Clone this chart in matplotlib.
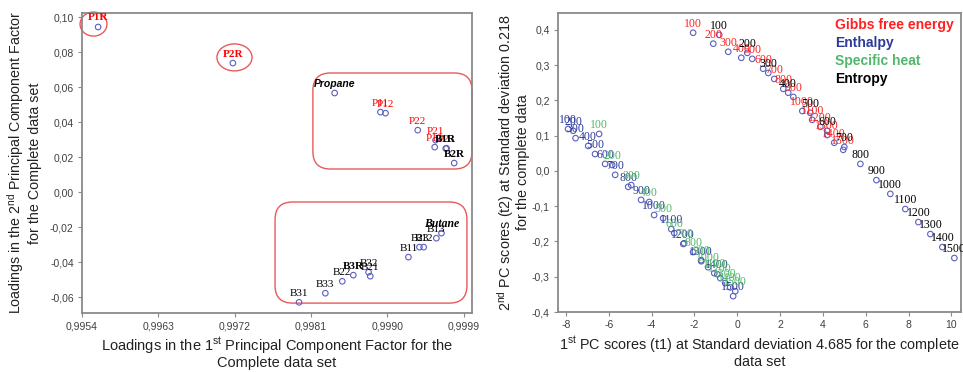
import matplotlib
matplotlib.use("Agg")
import matplotlib.pyplot as plt
from matplotlib.patches import FancyBboxPatch, Ellipse

plt.rcParams['font.family'] = ['Liberation Sans', 'DejaVu Sans']
plt.rcParams['mathtext.fontset'] = 'custom'
plt.rcParams['mathtext.rm'] = 'Liberation Sans'
plt.rcParams['mathtext.it'] = 'Liberation Sans:italic'

# ---------------- Left panel data: loadings ----------------
load_names = ["P1R", "P2R", "Propane", "P11", "P12", "P22", "P21", "P13", "P23", "B1R", "B2R",
              "Butane", "B13", "B23", "B12", "B11", "B21", "B32", "B3R", "B22", "B33", "B31"]
load_pc1 = [0.99559, 0.99718, 0.99838, 0.99892, 0.99898, 0.99936, 0.99957, 0.99956, 0.99970, 0.99969, 0.99979,
            0.99964, 0.99958, 0.99938, 0.99943, 0.99925, 0.99880, 0.99878, 0.99860, 0.99847, 0.99827, 0.99796]
load_pc2 = [0.0943, 0.0737, 0.0566, 0.0457, 0.0451, 0.0354, 0.0297, 0.0257, 0.0251, 0.0249, 0.0166,
            -0.0234, -0.0263, -0.0314, -0.0314, -0.0371, -0.0480, -0.0457, -0.0474, -0.0509, -0.0577, -0.0629]
load_colors = ["red", "red", "black", "red", "red", "red", "red", "red", "red", "black", "black",
               "black", "black", "black", "black", "black", "black", "black", "black", "black", "black", "black"]
load_weights = ["bold", "bold", "bold", "normal", "normal", "normal", "normal", "normal", "normal", "bold", "bold",
                "bold", "normal", "normal", "normal", "normal", "normal", "normal", "bold", "normal", "normal", "normal"]

left_xticks = [0.9954, 0.9963, 0.9972, 0.9981, 0.9990, 0.9999]
left_xticklabels = ["0,9954", "0,9963", "0,9972", "0,9981", "0,9990", "0,9999"]
left_yticks = [-0.06, -0.04, -0.02, 0.00, 0.02, 0.04, 0.06, 0.08, 0.10]
left_yticklabels = ["-0,06", "-0,04", "-0,02", "0,00", "0,02", "0,04", "0,06", "0,08", "0,10"]

# ---------------- Right panel data: scores ----------------
temps = ["100", "200", "300", "400", "500", "600", "700", "800", "900", "1000",
         "1100", "1200", "1300", "1400", "1500"]
gibbs_t1 = [-2.06, -1.12, -0.42, 0.19, 0.70, 1.21, 1.73, 2.15, 2.62, 3.04, 3.50, 3.88, 4.20, 4.53, 4.95]
gibbs_t2 = [0.392, 0.361, 0.338, 0.321, 0.318, 0.290, 0.261, 0.233, 0.210, 0.170, 0.145, 0.125, 0.102, 0.080, 0.060]
enthalpy_t1 = [-7.90, -7.66, -7.55, -6.96, -6.64, -6.17, -5.70, -5.09, -4.49, -3.88, -3.08, -2.52, -1.68, -0.93, -0.19]
enthalpy_t2 = [0.119, 0.114, 0.093, 0.071, 0.048, 0.020, -0.011, -0.045, -0.082, -0.125, -0.165, -0.207, -0.256, -0.293, -0.355]
cp_t1 = [-6.45, -5.84, -4.95, -4.11, -3.46, -2.94, -2.48, -2.06, -1.68, -1.36, -1.07, -0.79, -0.56, -0.33, -0.09]
cp_t2 = [0.105, 0.017, -0.040, -0.088, -0.134, -0.176, -0.205, -0.230, -0.253, -0.273, -0.290, -0.304, -0.318, -0.330, -0.341]
entropy_t1 = [-0.84, 0.47, 1.45, 2.38, 3.41, 4.20, 5.00, 5.75, 6.50, 7.15, 7.85, 8.46, 9.02, 9.58, 10.14]
entropy_t2 = [0.386, 0.335, 0.278, 0.222, 0.165, 0.114, 0.068, 0.020, -0.026, -0.065, -0.108, -0.145, -0.179, -0.216, -0.247]

series_names = ["Gibbs free energy", "Enthalpy", "Specific heat", "Entropy"]
series_colors = ["#ff2020", "#2b3a9a", "#4fb86a", "#000000"]

right_xticks = [-8, -6, -4, -2, 0, 2, 4, 6, 8, 10]
right_xticklabels = ["-8", "-6", "-4", "-2", "0", "2", "4", "6", "8", "10"]
right_yticks = [-0.4, -0.3, -0.2, -0.1, 0.0, 0.1, 0.2, 0.3, 0.4]
right_yticklabels = ["-0,4", "-0,3", "-0,2", "-0,1", "0,0", "0,1", "0,2", "0,3", "0,4"]

marker_color = "#5a5fc0"
spine_color = "#8a8a8a"
tick_color = "#404040"
box_color = "#e85a5a"

W, H = 963, 372
fig = plt.figure(figsize=(W / 100, H / 100), dpi=100)

def style_axes(ax):
    for s in ax.spines.values():
        s.set_color(spine_color)
        s.set_linewidth(1.3)
    ax.tick_params(direction="out", length=3, width=0.8, color=spine_color,
                   labelsize=7.5, labelcolor=tick_color, pad=3)

# ----- left axes -----
axL = fig.add_axes([82 / W, (H - 313) / H, 390 / W, 300 / H])
style_axes(axL)
axL.scatter(load_pc1, load_pc2, s=16, facecolors="none", edgecolors=marker_color, linewidths=0.8, zorder=3)
serif = ["Liberation Serif", "DejaVu Serif"]
for name, x, y, c, w in zip(load_names, load_pc1, load_pc2, load_colors, load_weights):
    if name == "Propane":
        axL.annotate(name, (x, y), xytext=(0, 6.5), textcoords="offset points", ha="center", va="center",
                     fontsize=7.5, color=c, fontweight="bold", fontstyle="italic",
                     family=["Liberation Sans", "DejaVu Sans"], zorder=4)
    elif name == "Butane":
        axL.annotate(name, (x, y), xytext=(0, 6.5), textcoords="offset points", ha="center", va="center",
                     fontsize=8.5, color=c, fontweight="bold", fontstyle="italic", family=serif, zorder=4)
    else:
        axL.annotate(name, (x, y), xytext=(0, 6.5), textcoords="offset points", ha="center", va="center",
                     fontsize=8, color=c, fontweight=w, family=serif, zorder=4)
axL.set_xlim(0.9954, 1.00000)
axL.set_ylim(-0.069, 0.1023)
axL.set_xticks(left_xticks)
axL.set_xticklabels(left_xticklabels)
axL.set_yticks(left_yticks)
axL.set_yticklabels(left_yticklabels)
axL.set_xlabel("Loadings in the 1$^{\\mathrm{st}}$ Principal Component Factor for the\nComplete data set",
               fontsize=10.5, color="#222222", labelpad=3, linespacing=1.0)
axL.set_ylabel("Loadings in the 2$^{\\mathrm{nd}}$ Principal Component Factor\nfor the Complete data set",
               fontsize=10.3, color="#222222", labelpad=6, linespacing=1.1)

# annotation shapes (axes fraction)
axL.add_patch(Ellipse((0.0295, 0.963), 0.069, 0.08, transform=axL.transAxes, fill=False,
                      edgecolor=box_color, linewidth=1.0, clip_on=False))
axL.add_patch(Ellipse((0.391, 0.852), 0.09, 0.09, transform=axL.transAxes, fill=False,
                      edgecolor=box_color, linewidth=1.0, clip_on=False))
axL.add_patch(FancyBboxPatch((0.592, 0.48), 0.408, 0.32, boxstyle="round,pad=0,rounding_size=0.045",
                             mutation_aspect=1.3, transform=axL.transAxes, fill=False,
                             edgecolor=box_color, linewidth=1.0, clip_on=False))
axL.add_patch(FancyBboxPatch((0.495, 0.033), 0.492, 0.337, boxstyle="round,pad=0,rounding_size=0.045",
                             mutation_aspect=1.3, transform=axL.transAxes, fill=False,
                             edgecolor=box_color, linewidth=1.0, clip_on=False))

# ----- right axes -----
axR = fig.add_axes([558 / W, (H - 312) / H, 403 / W, 299 / H])
style_axes(axR)
series_t1 = [gibbs_t1, enthalpy_t1, cp_t1, entropy_t1]
series_t2 = [gibbs_t2, enthalpy_t2, cp_t2, entropy_t2]
for t1, t2, col in zip(series_t1, series_t2, series_colors):
    axR.scatter(t1, t2, s=16, facecolors="none", edgecolors=marker_color, linewidths=0.8, zorder=3)
    for lab, x, y in zip(temps, t1, t2):
        axR.annotate(lab, (x, y), xytext=(0, 6.5), textcoords="offset points", ha="center", va="center",
                     fontsize=8.5, color=col, family=serif, zorder=4, annotation_clip=False)
axR.set_xlim(-8.37, 10.45)
axR.set_ylim(-0.4, 0.448)
axR.set_xticks(right_xticks)
axR.set_xticklabels(right_xticklabels)
axR.set_yticks(right_yticks)
axR.set_yticklabels(right_yticklabels)
axR.set_xlabel("1$^{\\mathrm{st}}$ PC scores (t1) at Standard deviation 4.685 for the complete\ndata set",
               fontsize=10.4, color="#222222", labelpad=3, linespacing=1.0)
axR.set_ylabel("2$^{\\mathrm{nd}}$ PC scores (t2) at Standard deviation 0.218\nfor the complete data",
               fontsize=10.4, color="#222222", labelpad=1, linespacing=1.0)

for i, (name, col) in enumerate(zip(series_names, series_colors)):
    axR.text(835 / W, 1 - (25 + 18 * i) / H, name, transform=fig.transFigure, ha="left", va="center",
             fontsize=10, fontweight="bold", color=col)

fig.savefig("out.png", dpi=100)
